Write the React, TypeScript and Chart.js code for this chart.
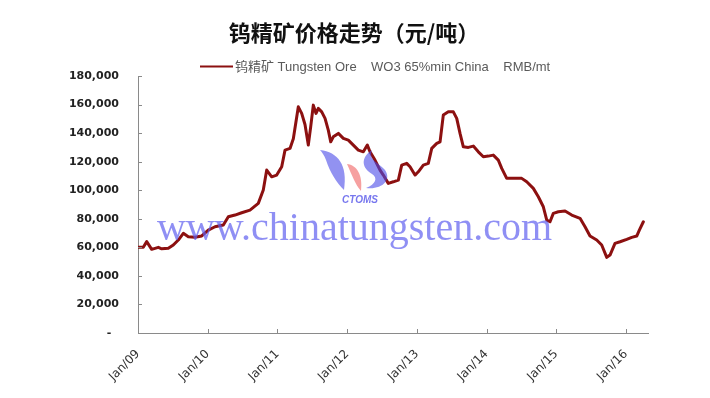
import { useEffect, useRef } from 'react';
import { Chart, registerables } from 'chart.js';

Chart.register(...registerables);

// months since Jan 2009 (fractional) and price in RMB/mt
const months = [
  0, 0.91, 1.5, 2.36, 3.5, 4.08, 5.22, 6.08, 6.94, 7.8, 8.66, 9.81, 10.97,
  12.1, 13.26, 14.69, 15.55, 16.7, 17.85, 19.28, 20.71, 21.57, 22.16, 23.02,
  23.88, 24.74, 25.31, 26.17, 26.74, 27.6, 28.18, 28.75, 29.32, 29.73, 30.18,
  30.65, 31.04, 31.63, 32.2, 32.76, 33.18, 33.62, 34.49, 35.35, 36.21, 37.07,
  37.93, 38.79, 39.48, 39.94, 40.8, 41.67, 42.23, 43.09, 43.95, 44.82, 45.4,
  46.26, 46.83, 47.69, 48.26, 49.12, 49.98, 50.57, 51.43, 52.0, 52.56, 53.42,
  54.29, 54.87, 55.44, 56.01, 56.87, 57.73, 58.59, 59.45, 60.31, 61.17, 62.03,
  62.62, 63.48, 64.91, 66.06, 66.92, 68.06, 68.92, 69.78, 70.37, 70.93, 71.5,
  72.36, 73.52, 74.67, 76.1, 76.96, 77.82, 78.97, 79.83, 80.7, 81.26, 82.12,
  82.99, 84.14, 85.0, 85.86, 86.31, 87.0,
];
const prices = [
  60000, 60000, 64000, 58600, 60000, 59000, 59300, 61600, 65100, 69800, 67400,
  67000, 68000, 72100, 74400, 75600, 81400, 82600, 84200, 86100, 90800, 100100,
  114100, 109400, 110600, 116400, 128100, 129300, 136000, 158400, 153800,
  146000, 131600, 144400, 159600, 153800, 157300, 154900, 150300, 142100,
  133900, 137400, 139800, 136300, 135100, 131600, 128100, 126900, 131600,
  126900, 121100, 114100, 110600, 104800, 105900, 107100, 117600, 118800,
  116400, 110600, 112900, 117600, 118800, 129300, 132800, 133900, 152600,
  154900, 154900, 150300, 139800, 130400, 130000, 130900, 126900, 123400,
  123900, 124600, 121100, 115300, 108300, 108300, 108300, 105900, 101300,
  95400, 88400, 79100, 77900, 83800, 84900, 85400, 82600, 80300, 74400, 67900,
  65100, 61600, 53000, 54600, 62800, 63900, 65600, 67000, 67900, 72100, 77900,
];
const tickMonths = [0, 12, 24, 36, 48, 60, 72, 84];
const tickLabels = ['Jan/09', 'Jan/10', 'Jan/11', 'Jan/12', 'Jan/13', 'Jan/14', 'Jan/15', 'Jan/16'];
const titleText = '钨精矿价格走势（元/吨）';
const seriesName = '钨精矿 Tungsten Ore    WO3 65%min China    RMB/mt';
const watermarkText = 'www.chinatungsten.com';
const logoText = 'CTOMS';

const LINE_COLOR = '#8c1010';

export default function App() {
  const ref = useRef<HTMLCanvasElement | null>(null);

  useEffect(() => {
    if (!ref.current) return;

    const decor = {
      id: 'decor',
      afterDraw(chart: any) {
        const ctx = chart.ctx as CanvasRenderingContext2D;
        const { chartArea } = chart;
        const xs = chart.scales.x;
        const ys = chart.scales.y;
        ctx.save();
        // inward tick marks
        ctx.strokeStyle = '#8a8a8a';
        ctx.lineWidth = 1;
        ys.ticks.forEach((t: any) => {
          const py = Math.round(ys.getPixelForValue(t.value)) + 0.5;
          ctx.beginPath();
          ctx.moveTo(chartArea.left, py);
          ctx.lineTo(chartArea.left + 4, py);
          ctx.stroke();
        });
        xs.ticks.forEach((t: any) => {
          const px = Math.round(xs.getPixelForValue(t.value)) + 0.5;
          ctx.beginPath();
          ctx.moveTo(px, chartArea.bottom);
          ctx.lineTo(px, chartArea.bottom - 4);
          ctx.stroke();
        });

        // title
        ctx.fillStyle = '#111';
        ctx.font = 'bold 22px "Noto Sans CJK SC"';
        ctx.textAlign = 'center';
        ctx.textBaseline = 'middle';
        ctx.fillText(titleText, 354, 33);

        // legend
        ctx.strokeStyle = chart.data.datasets[0].borderColor;
        ctx.lineWidth = 2;
        ctx.beginPath();
        ctx.moveTo(200, 66.5);
        ctx.lineTo(233, 66.5);
        ctx.stroke();
        ctx.fillStyle = '#5a5a5a';
        ctx.font = '13px "Liberation Sans", "Noto Sans CJK SC"';
        ctx.textAlign = 'left';
        ctx.fillText(chart.data.datasets[0].label, 235, 67);

        // watermark
        ctx.globalAlpha = 0.7;
        ctx.fillStyle = '#6060f0';
        ctx.font = '40px "Liberation Serif"';
        ctx.textBaseline = 'alphabetic';
        ctx.textAlign = 'left';
        ctx.fillText(watermarkText, 157, 240);

        // logo swooshes
        ctx.globalAlpha = 0.6;
        ctx.fillStyle = '#4a4ae8';
        ctx.beginPath();
        ctx.moveTo(320, 150);
        ctx.bezierCurveTo(338, 152, 348, 165, 344, 190);
        ctx.bezierCurveTo(336, 182, 330, 172, 326, 160);
        ctx.bezierCurveTo(324, 155, 322, 152, 320, 150);
        ctx.fill();
        ctx.fillStyle = '#f06060';
        ctx.beginPath();
        ctx.moveTo(347, 164);
        ctx.bezierCurveTo(357, 165, 363, 175, 361, 191);
        ctx.bezierCurveTo(355, 184, 352, 175, 347, 164);
        ctx.fill();
        ctx.fillStyle = '#4a4ae8';
        ctx.beginPath();
        ctx.moveTo(372, 150);
        ctx.bezierCurveTo(360, 158, 362, 168, 372, 174);
        ctx.bezierCurveTo(378, 178, 376, 184, 366, 188);
        ctx.bezierCurveTo(382, 190, 392, 180, 385, 170);
        ctx.bezierCurveTo(378, 162, 368, 160, 372, 150);
        ctx.fill();
        ctx.globalAlpha = 0.75;
        ctx.fillStyle = '#4a4ae8';
        ctx.font = 'italic bold 10px "Liberation Sans"';
        ctx.textAlign = 'center';
        ctx.fillText(logoText, 360, 203);
        ctx.restore();
      },
    };

    const chart = new Chart(ref.current, {
      type: 'line',
      data: {
        datasets: [
          {
            label: seriesName,
            data: months.map((m, i) => ({ x: m, y: prices[i] })),
            borderColor: LINE_COLOR,
            backgroundColor: LINE_COLOR,
            borderWidth: 3,
            pointRadius: 0,
            tension: 0,
            borderJoinStyle: 'round',
            borderCapStyle: 'round',
            fill: false,
          },
        ],
      },
      options: {
        responsive: false,
        animation: false,
        devicePixelRatio: 1,
        layout: { padding: { top: 76, right: 62, left: 0, bottom: 0 } },
        plugins: {
          legend: { display: false },
          title: { display: false },
          tooltip: { enabled: false },
        },
        scales: {
          x: {
            type: 'linear',
            min: 0,
            max: 87.8,
            afterFit: (s: any) => {
              s.height = 65;
            },
            afterBuildTicks: (s: any) => {
              s.ticks = tickMonths.map((v) => ({ value: v }));
            },
            grid: { display: false },
            border: { display: true, color: '#8a8a8a', width: 1 },
            ticks: {
              autoSkip: false,
              minRotation: 45,
              maxRotation: 45,
              padding: 6,
              color: '#333',
              font: { family: '"DejaVu Sans"', size: 12 },
              callback: (v: any) => {
                const i = tickMonths.indexOf(Number(v));
                return i >= 0 ? tickLabels[i] : '';
              },
            },
          },
          y: {
            min: 0,
            max: 180000,
            afterFit: (s: any) => {
              s.width = 138;
            },
            grid: { display: false },
            border: { display: true, color: '#8a8a8a', width: 1 },
            ticks: {
              stepSize: 20000,
              padding: 11,
              color: '#222',
              font: { family: '"DejaVu Sans"', size: 11, weight: 'bold' },
              callback: (v: any) => (Number(v) === 0 ? '-  ' : Number(v).toLocaleString('en-US')),
            },
          },
        },
      },
      plugins: [decor],
    });
    return () => chart.destroy();
  }, []);

  return (
    <div style={{ position: 'absolute', left: 0, top: 0, width: 710, height: 398, background: '#fff' }}>
      <canvas ref={ref} width={710} height={398} style={{ display: 'block' }} />
    </div>
  );
}
